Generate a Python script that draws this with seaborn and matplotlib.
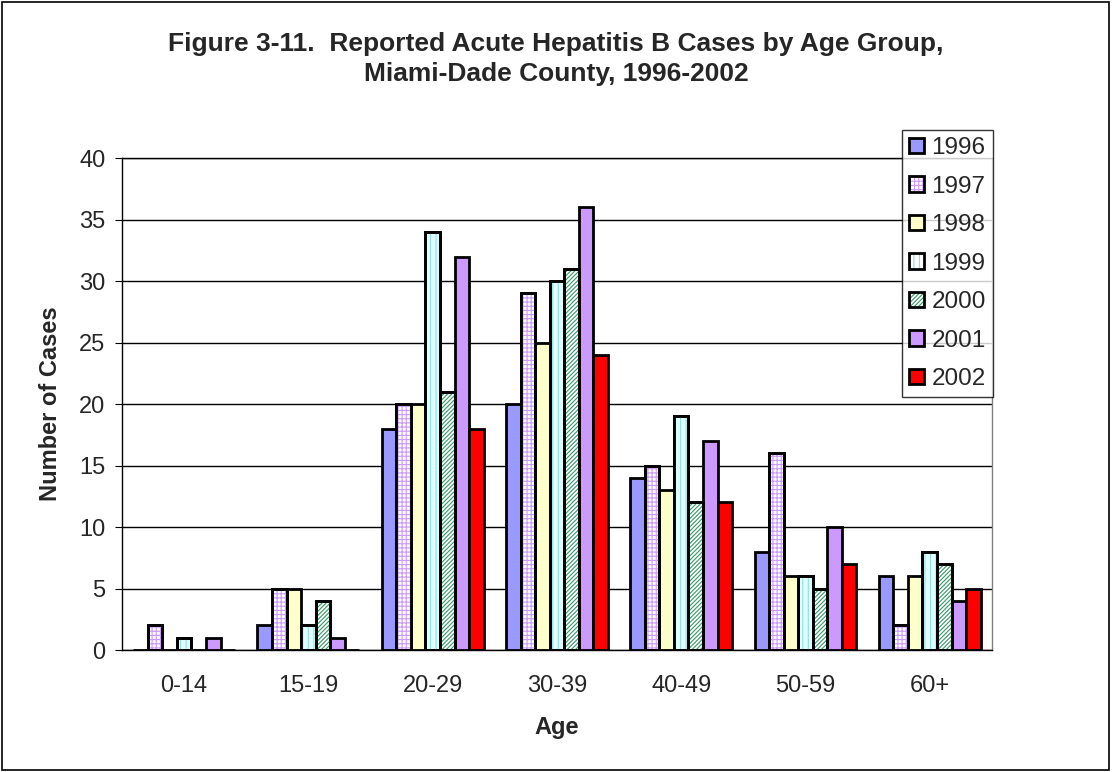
import numpy as np
import pandas as pd
import seaborn as sns
import matplotlib.pyplot as plt
from matplotlib.patches import Rectangle, Patch
from matplotlib.legend_handler import HandlerTuple

age_groups = ["0-14", "15-19", "20-29", "30-39", "40-49", "50-59", "60+"]
years = ["1996", "1997", "1998", "1999", "2000", "2001", "2002"]
cases_1996 = [0, 2, 18, 20, 14, 8, 6]
cases_1997 = [2, 5, 20, 29, 15, 16, 2]
cases_1998 = [0, 5, 20, 25, 13, 6, 6]
cases_1999 = [1, 2, 34, 30, 19, 6, 8]
cases_2000 = [0, 4, 21, 31, 12, 5, 7]
cases_2001 = [1, 1, 32, 36, 17, 10, 4]
cases_2002 = [0, 0, 18, 24, 12, 7, 5]

series = [cases_1996, cases_1997, cases_1998, cases_1999, cases_2000, cases_2001, cases_2002]
face = ["#9999FF", "white", "#FFFFCC", "#DDFFFF", "white", "#CC99FF", "#FF0000"]
hatch = [None, "++++", None, "|||", "////////", None, None]
hatch_col = [None, "#CC99FF", None, "#99DDDD", "#339966", None, None]

rows = []
for y, vals in zip(years, series):
    for g, v in zip(age_groups, vals):
        rows.append({"Age": g, "Year": y, "Cases": v})
df = pd.DataFrame(rows)

sns.set_style("white")
plt.rcParams["font.family"] = ["Liberation Sans", "DejaVu Sans"]
plt.rcParams["hatch.linewidth"] = 0.8

fig = plt.figure(figsize=(11.12, 7.72), dpi=100)
ax = fig.add_axes([0.1097, 0.158, 0.7823, 0.637])

sns.barplot(data=df, x="Age", y="Cases", hue="Year", order=age_groups,
            hue_order=years, palette=dict(zip(years, face)), saturation=1,
            width=0.82, gap=0, edgecolor="black", linewidth=2,
            legend=False, ax=ax)

# hatch overlays, series by series
for i, cont in enumerate(ax.containers):
    if hatch[i] is None:
        continue
    for bar in cont:
        x, y0 = bar.get_xy()
        w, h = bar.get_width(), bar.get_height()
        if h <= 0:
            continue
        ax.add_patch(Rectangle((x, y0), w, h, facecolor="none", edgecolor=hatch_col[i],
                               hatch=hatch[i], lw=0, zorder=bar.get_zorder() + 0.1))
        ax.add_patch(Rectangle((x, y0), w, h, facecolor="none", edgecolor="black",
                               lw=2, zorder=bar.get_zorder() + 0.2))

ax.set_ylim(0, 40)
ax.set_xlim(-0.5, 6.5)
ax.set_yticks(range(0, 41, 5))
ax.yaxis.grid(True, color="black", lw=1)
ax.set_axisbelow(True)
for s in ax.spines.values():
    s.set_color("black")
    s.set_linewidth(1)
ax.spines["right"].set_color("#808080")

ax.set_xticks(np.arange(-0.5, 7, 1), minor=True)
ax.tick_params(axis="x", which="major", length=0, labelsize=17, pad=18)
ax.tick_params(axis="x", which="minor", length=5, direction="out", color="black")
ax.tick_params(axis="y", length=5, direction="out", labelsize=17, color="black",
               left=True, pad=7)

ax.set_xlabel("Age", fontsize=17, fontweight="bold", labelpad=14)
ax.set_ylabel("Number of Cases", fontsize=17, fontweight="bold", labelpad=12)

fig.suptitle("Figure 3-11.  Reported Acute Hepatitis B Cases by Age Group,\nMiami-Dade County, 1996-2002",
             fontsize=19, fontweight="bold", y=0.958, va="top", linespacing=1.3)

handles = []
for i in range(len(years)):
    if hatch[i] is None:
        handles.append(Patch(facecolor=face[i], edgecolor="black", lw=2))
    else:
        handles.append((Patch(facecolor="white", edgecolor=hatch_col[i], hatch=hatch[i], lw=0),
                        Patch(facecolor="none", edgecolor="black", lw=2)))
leg = fig.legend(handles, years, loc="upper left", bbox_to_anchor=(0.811, 0.832),
                 fontsize=17.5, frameon=True, fancybox=False, borderpad=0.3,
                 handlelength=0.62, handleheight=0.62, handletextpad=0.3,
                 labelspacing=0.68, borderaxespad=0,
                 handler_map={tuple: HandlerTuple(ndivide=1, pad=0)})
leg.get_frame().set_edgecolor("black")
leg.get_frame().set_linewidth(1)

fig.patches.append(Rectangle((0.002, 0.003), 0.995, 0.994, transform=fig.transFigure,
                             fill=False, edgecolor="black", lw=1.2))

fig.savefig("out.png", dpi=100)
